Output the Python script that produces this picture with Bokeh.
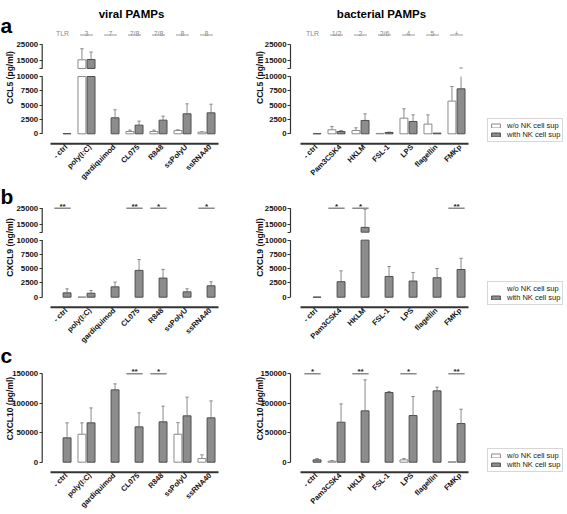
import math
from bokeh.plotting import figure
from bokeh.layouts import column, row
from bokeh.models import (Range1d, FixedTicker, Label, Legend, LegendItem,
                          BasicTickFormatter)
from bokeh.core.properties import value
from bokeh.embed import file_html
from bokeh.resources import INLINE

FONT = "Liberation Sans"

# ---------------- data ----------------
VIRAL = ["- ctrl", "poly(I:C)", "gardiquimod", "CL075", "R848", "ssPolyU", "ssRNA40"]
BACT = ["- ctrl", "Pam3CSK4", "HKLM", "FSL-1", "LPS", "flagellin", "FMKp"]
TLR_VIRAL = ["TLR", "3", "7", "7/8", "7/8", "8", "8"]
TLR_BACT = ["TLR", "1/2", "2", "2/6", "4", "5", "+"]

# CCL5 (pg/ml)
CCL5_V_WO = [None, 15400, None, 410, 410, 580, 290]
CCL5_V_WO_ERR = [None, 22300, None, 640, 640, 700, 350]
CCL5_V_W = [30, 15600, 2790, 1510, 2380, 3490, 3660]
CCL5_V_W_ERR = [None, 20200, 4190, 2210, 3080, 5230, 5170]
CCL5_B_WO = [None, 700, 580, 60, 2730, 1690, 5700]
CCL5_B_WO_ERR = [None, 1280, 1050, None, 4360, 3310, 8260]
CCL5_B_W = [20, 400, 2330, 230, 2150, 120, 7850]
CCL5_B_W_ERR = [None, 580, 3490, 290, 3310, None, 10300]

# CXCL9 (ng/ml)
CXCL9_V_WO = [None, 30, None, None, None, None, None]
CXCL9_V_WO_ERR = [None, None, None, None, None, None, None]
CXCL9_V_W = [760, 700, 1820, 4700, 3350, 940, 2000]
CXCL9_V_W_ERR = [1470, 1180, 2650, 6590, 4880, 1470, 2700]
CXCL9_V_SIG = ["**", None, None, "**", "*", None, "*"]
CXCL9_B_WO = [None, None, None, None, None, None, None]
CXCL9_B_WO_ERR = [None, None, None, None, None, None, None]
CXCL9_B_W = [20, 2720, 13000, 3640, 2830, 3410, 4860]
CXCL9_B_W_ERR = [None, 4620, 24300, 5380, 4340, 5030, 6820]
CXCL9_B_SIG = [None, "*", "*", None, None, None, "**"]

# CXCL10 (pg/ml)
CXCL10_V_WO = [None, 47500, None, None, None, 47500, 6200]
CXCL10_V_WO_ERR = [None, 66800, None, None, None, 67300, 12500]
CXCL10_V_W = [41300, 66800, 122800, 60000, 68500, 78700, 75300]
CXCL10_V_W_ERR = [66800, 92200, 133000, 83800, 95100, 110400, 104100]
CXCL10_V_SIG = [None, None, None, "**", "*", None, None]
CXCL10_B_WO = [None, 1700, None, None, 4000, None, 600]
CXCL10_B_WO_ERR = [None, 2800, None, None, 6200, None, None]
CXCL10_B_W = [4000, 67900, 87200, 118300, 79200, 121100, 65600]
CXCL10_B_W_ERR = [6200, 99000, 139800, 120000, 111500, 127300, 90000]
CXCL10_B_SIG = ["*", None, "**", None, "*", None, "**"]

BREAK_TICKS = [0, 2500, 5000, 7500, 10000, 15000, 25000]
LINEAR_TICKS = [0, 50000, 100000, 150000]

# ---------------- style / geometry ----------------
CAT_PX = 24.0
W_LEFT, W_RIGHT = 250, 316
XL = -50 / CAT_PX - 0.5          # figure left edge in category units
SPINE = {"left": -8.3 / CAT_PX - 0.5, "right": -10 / CAT_PX - 0.5}
BRK_LO, BRK_HI, BRK_R = 10000, 11400, 0.28
OFF, BW, CAP = 0.19, 0.33, 0.07
GRAY_FILL, GRAY_LINE = "#8c8c8c", "#4f4f4f"
WHITE_LINE, WHISK = "#8a8a8a", "#8a8a8a"


def tr(v, brk):
    if brk and v > BRK_LO:
        return BRK_HI + (v - BRK_LO) * BRK_R
    return v


def pieces(a, b, brk):
    if not brk:
        return [(a, b)]
    out = []
    if a < BRK_LO:
        out.append((a, min(b, BRK_LO)))
    if b > BRK_LO:
        out.append((max(tr(a, brk), BRK_HI), tr(b, brk)))
    return out


def draw_bars(p, vals, errs, off, fill, line, brk):
    L, R, Bt, Tp = [], [], [], []
    wx, wy0, wy1 = [], [], []
    cx0, cx1, cy = [], [], []
    for i, v in enumerate(vals):
        if v is None:
            continue
        x = i + off
        for lo, hi in pieces(0, v, brk):
            L.append(x - BW / 2); R.append(x + BW / 2); Bt.append(lo); Tp.append(hi)
        e = errs[i]
        if e is not None and e > v:
            for lo, hi in pieces(v, e, brk):
                wx.append(x); wy0.append(lo); wy1.append(hi)
            cx0.append(x - CAP); cx1.append(x + CAP); cy.append(tr(e, brk))
    p.segment(x0=wx, y0=wy0, x1=wx, y1=wy1, line_color=WHISK, line_width=1)
    p.segment(x0=cx0, y0=cy, x1=cx1, y1=cy, line_color=WHISK, line_width=1)
    return p.quad(left=L, right=R, bottom=Bt, top=Tp, fill_color=fill,
                  line_color=line, line_width=1)


def make_panel(side, cats, wo, wo_err, w, w_err, brk, k, H, zero_px, ylabel,
               ylabel_c, tlr=None, sig=None, sig_level=None, letter=None,
               letter_top=None, title=None, legend_y=None):
    width = W_LEFT if side == "left" else W_RIGHT
    spx = SPINE[side]
    p = figure(width=width, height=H,
               x_range=Range1d(XL, XL + width / CAT_PX),
               y_range=Range1d(-(H - zero_px) / k, zero_px / k),
               output_backend="svg", toolbar_location=None,
               min_border_left=0, min_border_right=0, min_border_top=0,
               min_border_bottom=0)
    p.outline_line_color = None
    p.grid.visible = False
    p.xaxis.visible = False

    # y axis (library axis, drawn at the spine position)
    ticks_raw = BREAK_TICKS if brk else LINEAR_TICKS
    ticks = [tr(t, brk) for t in ticks_raw]
    overrides = {tr(t, brk): str(t) for t in ticks_raw}
    if brk:
        ticks.append(BRK_HI)
        overrides[BRK_HI] = ""
    ya = p.yaxis[0]
    ya.fixed_location = spx
    ya.ticker = FixedTicker(ticks=ticks)
    ya.formatter = BasicTickFormatter(use_scientific=False)
    ya.major_label_overrides = overrides
    ya.axis_line_color = None
    ya.major_tick_out = 3
    ya.major_tick_in = 0
    ya.major_tick_line_color = "#333333"
    ya.minor_tick_line_color = None
    ya.major_label_standoff = 1
    ya.major_label_text_font = FONT
    ya.major_label_text_font_size = "7.8px"
    ya.major_label_text_font_style = "bold"
    ya.major_label_text_color = "#111111"

    p.add_layout(Label(x=9, y=H - ylabel_c, x_units="screen", y_units="screen",
                       text=ylabel, angle=math.pi / 2, text_font=FONT,
                       text_font_size="8.5px", text_font_style="bold",
                       text_align="center", text_baseline="alphabetic",
                       text_color="#111111"))

    # y spine (with break)
    segs = pieces(0, ticks_raw[-1], brk)
    p.segment(x0=[spx] * len(segs), y0=[s[0] for s in segs],
              x1=[spx] * len(segs), y1=[s[1] for s in segs],
              line_color="#333333", line_width=1.2)

    # x spine + category labels
    spine_y = -10 / k
    n = len(cats)
    p.segment(x0=[-0.5], y0=[spine_y], x1=[n - 0.5], y1=[spine_y],
              line_color="#333333", line_width=2)
    p.text(x=[i + 0.15 for i in range(n)], y=[spine_y] * n, text=cats,
           angle=math.pi / 4, text_align="right", text_baseline="middle",
           y_offset=2, text_font=value(FONT), text_font_size="7.5px",
           text_font_style="bold", text_color="#111111")

    rw = draw_bars(p, wo, wo_err, -OFF, "white", WHITE_LINE, brk)
    rg = draw_bars(p, w, w_err, OFF, GRAY_FILL, GRAY_LINE, brk)

    if tlr is not None:
        base = 100.8 / k
        p.text(x=list(range(len(tlr))), y=[base] * len(tlr), text=tlr,
               text_font=value(FONT), text_font_size="7px", text_color="#8a8a8a",
               text_align="center", text_baseline="alphabetic")
        idx = list(range(1, len(tlr)))
        p.segment(x0=[i - 0.27 for i in idx], y0=[base - 2 / k] * len(idx),
                  x1=[i + 0.27 for i in idx], y1=[base - 2 / k] * len(idx),
                  line_color="#9a9a9a", line_width=1)

    if sig is not None:
        lvl = tr(sig_level, brk)
        idx = [i for i, s in enumerate(sig) if s]
        p.segment(x0=[i - 0.34 for i in idx], y0=[lvl] * len(idx),
                  x1=[i + 0.34 for i in idx], y1=[lvl] * len(idx),
                  line_color="#8a8a8a", line_width=1.5)
        p.text(x=idx, y=[lvl] * len(idx), text=[sig[i] for i in idx],
               text_font=value(FONT), text_font_size="8px", text_font_style="bold",
               text_color="#222222", text_align="center", text_baseline="alphabetic",
               y_offset=-2)

    if letter:
        p.add_layout(Label(x=0, y=H - letter_top, x_units="screen", y_units="screen",
                           text=letter, text_font=FONT, text_font_size="21px",
                           text_font_style="bold", text_baseline="alphabetic",
                           text_color="#000000"))
    if title:
        p.add_layout(Label(x=(3.0 - XL) * CAT_PX - 3, y=H - 13.3, x_units="screen",
                           y_units="screen", text=title, text_font=FONT,
                           text_font_size="11.5px", text_font_style="bold",
                           text_align="center", text_baseline="alphabetic",
                           text_color="#000000"))

    if legend_y is not None:
        leg = Legend(items=[LegendItem(label="w/o NK cell sup", renderers=[rw]),
                            LegendItem(label="with NK cell sup", renderers=[rg])],
                     location=(237, legend_y), label_text_font=FONT,
                     label_text_font_size="7.5px", label_height=7, glyph_width=11,
                     glyph_height=5, label_standoff=6, spacing=0, padding=2,
                     margin=0, border_line_color="#b0b0b0", border_line_width=1,
                     background_fill_color="white", label_text_color="#222222")
        p.add_layout(leg)
    return p


KA, KB, KC = 0.00573, 0.005705, 0.000589
HA, HB, HC = 182, 162, 169
ZA, ZB, ZC = 133.3, 114.7, 117.7

a_l = make_panel("left", VIRAL, CCL5_V_WO, CCL5_V_WO_ERR, CCL5_V_W, CCL5_V_W_ERR,
                 True, KA, HA, ZA, "CCL5 (pg/ml)", 77, tlr=TLR_VIRAL,
                 letter="a", letter_top=25, title="viral PAMPs")
a_r = make_panel("right", BACT, CCL5_B_WO, CCL5_B_WO_ERR, CCL5_B_W, CCL5_B_W_ERR,
                 True, KA, HA, ZA, "CCL5 (pg/ml)", 77, tlr=TLR_BACT,
                 title="bacterial PAMPs", legend_y=40)
b_l = make_panel("left", VIRAL, CXCL9_V_WO, CXCL9_V_WO_ERR, CXCL9_V_W, CXCL9_V_W_ERR,
                 True, KB, HB, ZB, "CXCL9 (ng/ml)", 65, sig=CXCL9_V_SIG,
                 sig_level=25000, letter="b", letter_top=14)
b_r = make_panel("right", BACT, CXCL9_B_WO, CXCL9_B_WO_ERR, CXCL9_B_W, CXCL9_B_W_ERR,
                 True, KB, HB, ZB, "CXCL9 (ng/ml)", 65, sig=CXCL9_B_SIG,
                 sig_level=25000, legend_y=39)
c_l = make_panel("left", VIRAL, CXCL10_V_WO, CXCL10_V_WO_ERR, CXCL10_V_W, CXCL10_V_W_ERR,
                 False, KC, HC, ZC, "CXCL10 (pg/ml)", 64, sig=CXCL10_V_SIG,
                 sig_level=150000, letter="c", letter_top=11)
c_r = make_panel("right", BACT, CXCL10_B_WO, CXCL10_B_WO_ERR, CXCL10_B_W, CXCL10_B_W_ERR,
                 False, KC, HC, ZC, "CXCL10 (pg/ml)", 64, sig=CXCL10_B_SIG,
                 sig_level=150000, legend_y=41)

layout = column(row(a_l, a_r), row(b_l, b_r), row(c_l, c_r))
open("out.html", "w").write(file_html(layout, INLINE))
